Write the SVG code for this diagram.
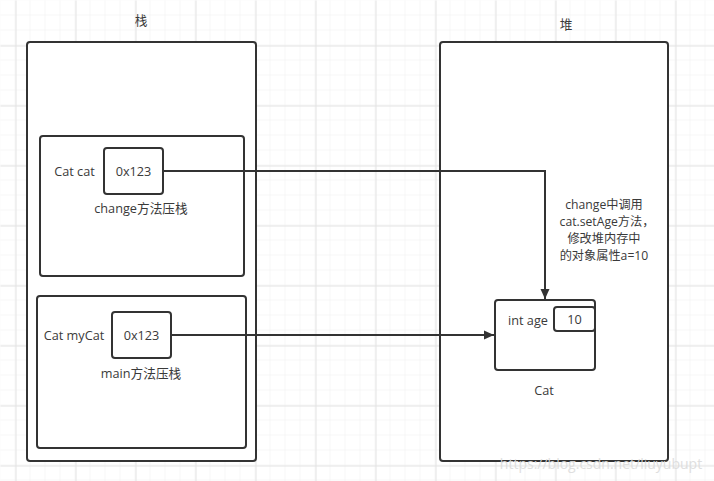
<svg xmlns="http://www.w3.org/2000/svg" width="714" height="481" viewBox="0 0 714 481">
<defs>
<pattern id="minor" width="15" height="15" patternUnits="userSpaceOnUse">
<path d="M15 0V15M0 15H15" fill="none" stroke="#efefef" stroke-width="1"/>
</pattern>
<pattern id="major" x="15" y="45" width="60" height="60" patternUnits="userSpaceOnUse">
<path d="M0.5 0V60M0 0.5H60" fill="none" stroke="#e3e3e3" stroke-width="1"/>
</pattern>
<marker id="arr" viewBox="0 0 10 10" refX="10" refY="5" markerWidth="10" markerHeight="10" markerUnits="userSpaceOnUse" orient="auto">
<path d="M0 0.5L10 5L0 9.5Z" fill="#333"/>
</marker>
</defs>
<style>
.box{fill:#fff;stroke:#333;stroke-width:2}
.t{font-family:"Microsoft YaHei","Open Sans","Noto Sans CJK SC",sans-serif;font-size:12.7px;fill:#3a3a3a;text-anchor:middle;dominant-baseline:central}
.n{font-size:12.2px}
.c{fill:none;stroke:#333;stroke-width:2}
</style>
<rect width="714" height="481" fill="#fff"/>
<g transform="translate(0.5,0.5)">
<rect width="714" height="481" fill="url(#minor)"/>
<rect width="714" height="481" fill="url(#major)"/>
</g>
<g id="stack">
<text class="t" x="141" y="20">栈</text>
<rect class="box" x="27" y="42" width="229" height="419" rx="3"/>
</g>
<g id="heap">
<text class="t" x="566" y="24">堆</text>
<rect class="box" x="440" y="42" width="228" height="419" rx="3"/>
</g>
<g id="changeFrame">
<rect class="box" x="40" y="136" width="204" height="140" rx="3"/>
<text class="t" x="74.5" y="171">Cat cat</text>
<text class="t" x="141" y="208">change方法压栈</text>
</g>
<g id="catRef">
<rect class="box" x="104" y="148" width="59" height="46" rx="3"/>
<text class="t" x="133.5" y="171">0x123</text>
</g>
<g id="mainFrame">
<rect class="box" x="37" y="296" width="209" height="152" rx="3"/>
<text class="t" x="74" y="335">Cat myCat</text>
<text class="t" x="141" y="373">main方法压栈</text>
</g>
<g id="myCatRef">
<rect class="box" x="112" y="312" width="59" height="46" rx="3"/>
<text class="t" x="141.5" y="335">0x123</text>
</g>
<g id="catObj">
<rect class="box" x="495" y="300" width="100" height="70" rx="3"/>
<text class="t" x="528" y="320">int age</text>
<text class="t" x="544" y="390">Cat</text>
</g>
<g id="ageVal">
<rect class="box" x="554" y="307" width="41" height="24" rx="3"/>
<text class="t" x="574.5" y="319">10</text>
</g>
<g id="note">
<text class="t n" x="604" y="204">change中调用</text>
<text class="t n" x="607" y="221">cat.setAge方法，</text>
<text class="t n" x="604" y="238">修改堆内存中</text>
<text class="t n" x="604" y="255">的对象属性a=10</text>
</g>
<g id="connectors">
<path class="c" d="M163 171H545V299" marker-end="url(#arr)"/>
<path class="c" d="M171 335H494" marker-end="url(#arr)"/>
</g>
<text x="601" y="463" font-family="Open Sans, sans-serif" font-size="14" fill="#dcdcdc" text-anchor="middle" dominant-baseline="central" opacity="0.9">https://blog.csdn.net/liuyubupt</text>
</svg>
